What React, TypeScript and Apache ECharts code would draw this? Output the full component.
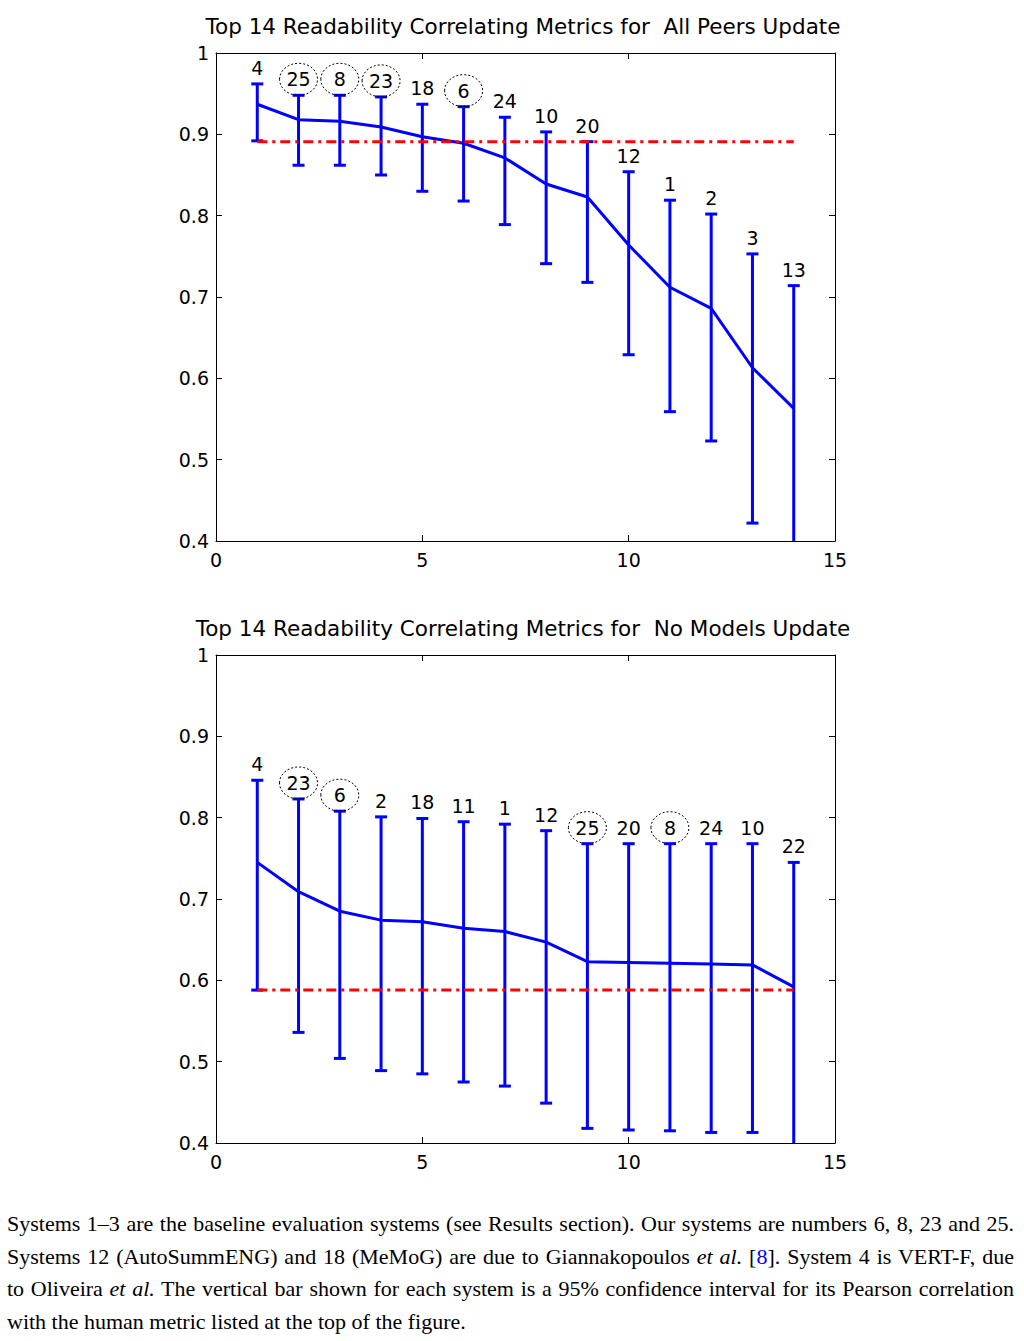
import React, { useEffect, useRef } from "react";
import * as echarts from "echarts";

const topTitle = "Top 14 Readability Correlating Metrics for  All Peers Update";
const topSystems = [4, 25, 8, 23, 18, 6, 24, 10, 20, 12, 1, 2, 3, 13];
const topCircled = [25, 8, 23, 6];
const topMean = [0.937, 0.918, 0.916, 0.909, 0.897, 0.889, 0.871, 0.839, 0.823, 0.764, 0.712, 0.686, 0.613, 0.563];
const topUpper = [0.962, 0.948, 0.948, 0.946, 0.937, 0.934, 0.921, 0.903, 0.891, 0.854, 0.819, 0.802, 0.753, 0.714];
const topLower = [0.892, 0.862, 0.862, 0.85, 0.83, 0.818, 0.789, 0.741, 0.718, 0.629, 0.559, 0.523, 0.422, 0.385];
const topBaseline = 0.891;

const botTitle = "Top 14 Readability Correlating Metrics for  No Models Update";
const botSystems = [4, 23, 6, 2, 18, 11, 1, 12, 25, 20, 8, 24, 10, 22];
const botCircled = [23, 6, 25, 8];
const botMean = [0.745, 0.709, 0.685, 0.674, 0.672, 0.664, 0.66, 0.647, 0.623, 0.622, 0.621, 0.62, 0.619, 0.592];
const botUpper = [0.846, 0.823, 0.808, 0.801, 0.799, 0.795, 0.792, 0.784, 0.768, 0.768, 0.768, 0.768, 0.768, 0.745];
const botLower = [0.588, 0.536, 0.504, 0.489, 0.485, 0.475, 0.47, 0.449, 0.418, 0.416, 0.415, 0.413, 0.413, 0.385];
const botBaseline = 0.588;

const xTicks = { min: 0, max: 15, interval: 5 };
const yTicks = { min: 0.4, max: 1, interval: 0.1 };

const FONT = "'DejaVu Sans', 'Liberation Sans', Arial, sans-serif";
const BLUE = "#0000ff";
const RED = "#ff0000";

function axesFor(gridIndex: number) {
  const common = {
    gridIndex,
    type: "value" as const,
    axisLine: { show: true, onZero: false, lineStyle: { color: "#000", width: 1 } },
    axisTick: { show: true, inside: true, length: 6, lineStyle: { color: "#000" } },
    splitLine: { show: false },
  };
  const xs = [
    {
      ...common,
      position: "bottom",
      ...xTicks,
      axisLabel: { show: true, fontSize: 19, color: "#000", fontFamily: FONT, margin: 9 },
    },
    { ...common, position: "top", ...xTicks, axisLabel: { show: false } },
  ];
  const ys = [
    {
      ...common,
      position: "left",
      ...yTicks,
      axisLabel: {
        show: true,
        fontSize: 19,
        color: "#000",
        fontFamily: FONT,
        margin: 7,
        formatter: (v: number) => (Math.abs(v - 1) < 1e-9 ? "1" : v.toFixed(1)),
      },
    },
    { ...common, position: "right", ...yTicks, axisLabel: { show: false } },
  ];
  return { xs, ys };
}

function seriesFor(
  axisIdx: number,
  systems: number[],
  circled: number[],
  mean: number[],
  upper: number[],
  lower: number[],
  baseline: number
) {
  const errData = systems.map((s, i) => [i + 1, lower[i], upper[i], s]);
  const errorBars = {
    type: "custom",
    xAxisIndex: axisIdx,
    yAxisIndex: axisIdx,
    clip: true,
    data: errData,
    z: 3,
    renderItem: (_p: any, api: any) => {
      const x = api.value(0);
      const lo = api.coord([x, api.value(1)]);
      const hi = api.coord([x, api.value(2)]);
      const half = 6;
      const style = { stroke: BLUE, lineWidth: 3, fill: "none" };
      return {
        type: "group",
        children: [
          { type: "line", shape: { x1: lo[0], y1: lo[1], x2: hi[0], y2: hi[1] }, style },
          { type: "line", shape: { x1: hi[0] - half, y1: hi[1], x2: hi[0] + half, y2: hi[1] }, style },
          { type: "line", shape: { x1: lo[0] - half, y1: lo[1], x2: lo[0] + half, y2: lo[1] }, style },
        ],
      };
    },
  };
  const labels = {
    type: "custom",
    xAxisIndex: axisIdx,
    yAxisIndex: axisIdx,
    clip: false,
    data: errData,
    z: 5,
    renderItem: (_p: any, api: any) => {
      const x = api.value(0);
      const hi = api.coord([x, api.value(2)]);
      const s = api.value(3);
      const cy = hi[1] - 16;
      const children: any[] = [
        {
          type: "text",
          x: hi[0],
          y: cy,
          style: {
            text: String(s),
            fill: "#000",
            font: `19px ${FONT}`,
            align: "center",
            verticalAlign: "middle",
          },
        },
      ];
      if (circled.indexOf(s) >= 0) {
        children.push({
          type: "ellipse",
          shape: { cx: hi[0], cy: cy, rx: 19, ry: 16 },
          style: { fill: "none", stroke: "#000", lineWidth: 1, lineDash: [2, 2] },
        });
      }
      return { type: "group", children };
    },
  };
  const meanLine = {
    type: "line",
    xAxisIndex: axisIdx,
    yAxisIndex: axisIdx,
    data: mean.map((m, i) => [i + 1, m]),
    symbol: "none",
    lineStyle: { color: BLUE, width: 3 },
    z: 4,
  };
  const baseLine = {
    type: "line",
    xAxisIndex: axisIdx,
    yAxisIndex: axisIdx,
    data: [
      [1, baseline],
      [systems.length, baseline],
    ],
    symbol: "none",
    lineStyle: { color: RED, width: 3, type: [10, 5, 3, 5] },
    z: 4,
  };
  return [errorBars, meanLine, baseLine, labels];
}

export default function App() {
  const ref = useRef<HTMLDivElement>(null);
  useEffect(() => {
    if (!ref.current) return;
    const chart = echarts.init(ref.current, undefined, { renderer: "svg" });
    const a0 = axesFor(0);
    const a1 = axesFor(1);
    chart.setOption({
      animation: false,
      backgroundColor: "#fff",
      grid: [
        { left: 216, top: 53, width: 619, height: 488, containLabel: false },
        { left: 216, top: 655, width: 619, height: 488, containLabel: false },
      ],
      xAxis: [...a0.xs, ...a1.xs],
      yAxis: [...a0.ys, ...a1.ys],
      graphic: [
        {
          type: "text",
          x: 523,
          y: 26,
          style: { text: topTitle, font: `21.5px ${FONT}`, fill: "#000", align: "center", verticalAlign: "middle" },
        },
        {
          type: "text",
          x: 523,
          y: 628,
          style: { text: botTitle, font: `21.5px ${FONT}`, fill: "#000", align: "center", verticalAlign: "middle" },
        },
      ],
      series: [
        ...seriesFor(0, topSystems, topCircled, topMean, topUpper, topLower, topBaseline),
        ...seriesFor(2, botSystems, botCircled, botMean, botUpper, botLower, botBaseline),
      ],
    });
    return () => chart.dispose();
  }, []);

  const lineStyle: React.CSSProperties = {
    textAlign: "justify",
    textAlignLast: "justify" as any,
    height: 32.6,
    lineHeight: "32.6px",
  };
  return (
    <div style={{ position: "absolute", left: 0, top: 0, width: 1024, height: 1341, background: "#fff" }}>
      <div ref={ref} style={{ position: "absolute", left: 0, top: 0, width: 1024, height: 1190 }} />
      <div
        style={{
          position: "absolute",
          left: 7,
          top: 1208,
          width: 1007,
          fontFamily: "'Liberation Serif', 'Times New Roman', serif",
          fontSize: 22,
          color: "#000",
        }}
      >
        <div style={lineStyle}>
          Systems 1–3 are the baseline evaluation systems (see Results section). Our systems are numbers 6, 8, 23 and 25.
        </div>
        <div style={lineStyle}>
          Systems 12 (AutoSummENG) and 18 (MeMoG) are due to Giannakopoulos <i>et al.</i> [<span style={{ color: "#0000ff" }}>8</span>]. System 4 is VERT-F, due
        </div>
        <div style={lineStyle}>
          to Oliveira <i>et al.</i> The vertical bar shown for each system is a 95% confidence interval for its Pearson correlation
        </div>
        <div style={{ ...lineStyle, textAlignLast: "left" as any }}>with the human metric listed at the top of the figure.</div>
      </div>
    </div>
  );
}
